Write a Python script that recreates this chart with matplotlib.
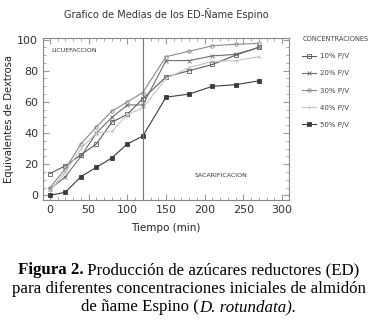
import matplotlib
matplotlib.use("Agg")
import matplotlib.pyplot as plt
from matplotlib.ticker import MultipleLocator

time = [0, 20, 40, 60, 80, 100, 120, 150, 180, 210, 240, 270]
s10 = [14, 19, 26, 33, 47, 52, 62, 76, 80, 84, 90, 95]
s20 = [4, 12, 25, 40, 50, 58, 58, 86.5, 86.5, 89.5, 90.5, 95]
s30 = [5, 17, 33, 44, 54, 60, 66, 89, 92.5, 96, 97, 97.5]
s40 = [3, 15, 30, 40, 41, 52, 56, 75, 82, 86, 86.5, 89]
s50 = [0, 2, 12, 18, 24, 33, 38, 63, 65, 70, 71, 73.5]
labels = ["10% P/V", "20% P/V", "30% P/V", "40% P/V", "50% P/V"]
series = [s10, s20, s30, s40, s50]

styles = [
    dict(color="#5a5a5a", marker="s", mfc="none", ms=3, mew=0.6),
    dict(color="#6e6e6e", marker="x", ms=3, mew=0.6),
    dict(color="#8a8a8a", marker="o", mfc="none", ms=2.5, mew=0.6),
    dict(color="#c4c4c4", marker="+", ms=3, mew=0.6),
    dict(color="#3c3c3c", marker="s", ms=2.5, mew=0.6),
]

W, H = 377, 334
fig = plt.figure(figsize=(W / 100, H / 100), dpi=100)
ax = fig.add_axes([43 / W, (H - 200) / H, 246 / W, 162 / H])

handles = []
for ys, lab, st in zip(series, labels, styles):
    h, = ax.plot(time, ys, lw=0.8, label=lab, **st)
    handles.append(h)

ax.axvline(120, color="#777777", lw=0.8)
ax.set_xlim(-9, 309)
ax.set_ylim(-3, 101)
ax.xaxis.set_major_locator(MultipleLocator(50))
ax.xaxis.set_minor_locator(MultipleLocator(10))
ax.yaxis.set_major_locator(MultipleLocator(20))
ax.yaxis.set_minor_locator(MultipleLocator(5))
ax.tick_params(which="both", direction="in", top=True, right=True,
               color="#999999", labelsize=8, labelcolor="#333333")
ax.tick_params(which="major", length=4)
ax.tick_params(which="minor", length=2)
for sp in ax.spines.values():
    sp.set_color("#888888")
    sp.set_linewidth(0.8)

ax.text(2, 92, "LICUEFACCION", fontsize=4.5, color="#333333")
ax.text(187, 12, "SACARIFICACION", fontsize=4.5, color="#333333")

ax.set_xlabel("Tiempo (min)", fontsize=7.5, color="#222222", labelpad=6)
ax.set_ylabel("Equivalentes de Dextrosa", fontsize=7.2, color="#222222", labelpad=2)
fig.text(166 / W, 1 - 14 / H, "Grafico de Medias de los ED-Ñame Espino",
         ha="center", va="center", fontsize=7, color="#333333")

leg = fig.legend(handles=handles, labels=labels, loc="upper left",
                 bbox_to_anchor=(296 / W, 1 - 30 / H), frameon=False,
                 fontsize=5, title="CONCENTRACIONES", title_fontsize=4.8,
                 handlelength=2.0, labelspacing=1.6, handletextpad=0.6)
for t in leg.get_texts():
    t.set_color("#444444")
leg.get_title().set_color("#444444")
leg._legend_box.align = "left"

# caption
cap_fs = 12.2
serif = "Liberation Serif"
fig.canvas.draw()
r = fig.canvas.get_renderer()
line1_bold = "Figura 2."
line1_rest = " Producción de azúcares reductores (ED)"
tb = fig.text(0, 0, line1_bold, fontsize=cap_fs, family=serif, weight="bold")
tr = fig.text(0, 0, line1_rest, fontsize=cap_fs, family=serif)
wb = tb.get_window_extent(r).width
wr = tr.get_window_extent(r).width
x0 = (W - (wb + wr)) / 2
y1 = 1 - 270 / H
tb.set_position((x0 / W, y1))
tb.set_va("center")
tr.set_position(((x0 + wb) / W, y1))
tr.set_va("center")
fig.text(0.5, 1 - 289 / H, "para diferentes concentraciones iniciales de almidón",
         fontsize=cap_fs, family=serif, ha="center", va="center")
# third line with italic part
p1 = "de ñame Espino ("
p2 = "D. rotundata)."
t1 = fig.text(0, 0, p1, fontsize=cap_fs, family=serif)
t2 = fig.text(0, 0, p2, fontsize=cap_fs, family=serif, style="italic")
w1 = t1.get_window_extent(r).width
w2 = t2.get_window_extent(r).width
x0 = (W - (w1 + w2)) / 2
y3 = 1 - 307 / H
t1.set_position((x0 / W, y3)); t1.set_va("center")
t2.set_position(((x0 + w1) / W, y3)); t2.set_va("center")

fig.savefig("out.png", dpi=100)
